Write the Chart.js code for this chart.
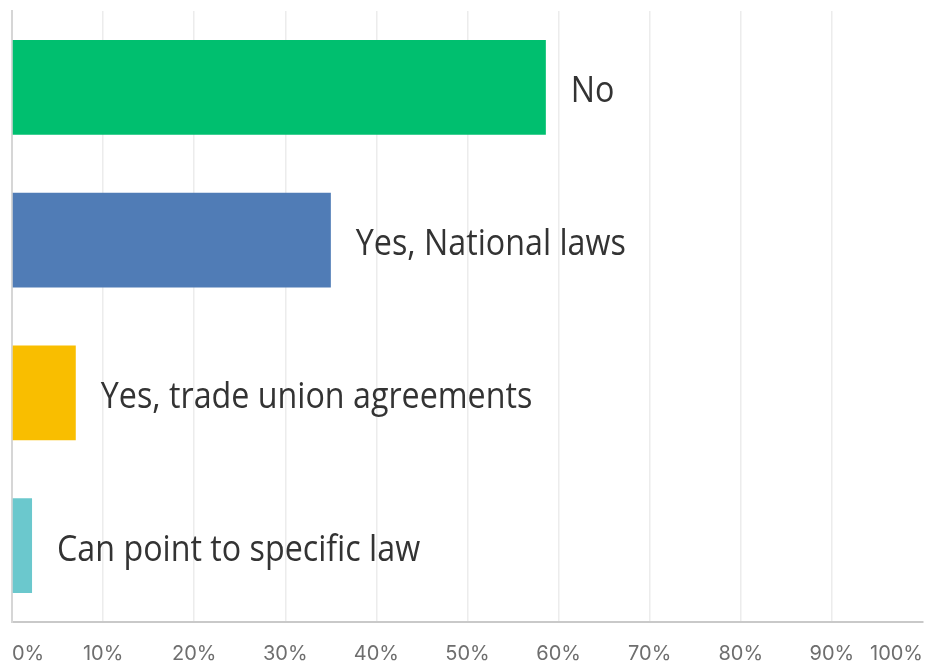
<!DOCTYPE html>
<html>
<head>
<meta charset="utf-8">
<script src="https://cdn.jsdelivr.net/npm/chart.js@4"></script>
<style>
  html, body { margin: 0; padding: 0; background: #fff; }
  #wrap { width: 925px; height: 666px; position: relative; }
</style>
</head>
<body>
<div id="wrap"><canvas id="answerChart"></canvas></div>
<script>
const categories = ['No', 'Yes, National laws', 'Yes, trade union agreements', 'Can point to specific law'];
const percentages = [58.6, 35.0, 7.0, 2.2];
const barColors = ['#00BF6F', '#507CB6', '#F9BE00', '#6BC8CD'];
const tickValues = [0, 10, 20, 30, 40, 50, 60, 70, 80, 90, 100];

// labels next to the bars, narrow like the original
const barLabels = {
    id: 'barLabels',
    afterDatasetsDraw(chart) {
        const ctx = chart.ctx;
        const meta = chart.getDatasetMeta(0);
        ctx.save();
        ctx.font = '36px "Open Sans"';
        ctx.fillStyle = '#333333';
        ctx.textBaseline = 'alphabetic';
        const sx = 270 / ctx.measureText('Yes, National laws').width;
        meta.data.forEach((bar, i) => {
            ctx.save();
            ctx.translate(bar.x + 25, bar.y + 15);
            ctx.scale(sx, 1);
            ctx.fillText(categories[i], 0, 0);
            ctx.restore();
        });
        ctx.restore();
    }
};

const ctx = document.getElementById('answerChart').getContext('2d');
new Chart(ctx, {
    type: 'bar',
    data: {
        labels: categories,
        datasets: [{
            data: percentages,
            backgroundColor: barColors,
            borderWidth: 0,
            barPercentage: 0.62,
            categoryPercentage: 1
        }]
    },
    options: {
        indexAxis: 'y',
        responsive: true,
        maintainAspectRatio: false,
        animation: false,
        layout: { padding: { top: 11, right: 2, left: 0, bottom: 0 } },
        plugins: {
            legend: { display: false },
            tooltip: { enabled: false }
        },
        scales: {
            x: {
                min: 0,
                max: 100,
                afterBuildTicks: scale => {
                    scale.ticks = tickValues.map(v => ({ value: v }));
                },
                afterFit: scale => {
                    scale.height = 44;
                    scale.paddingLeft = 0;
                    scale.paddingRight = 0;
                },
                ticks: {
                    align: 'inner',
                    padding: 20,
                    color: '#6e6e6e',
                    font: { family: 'Inter', size: 20 },
                    callback: v => v + '%'
                },
                grid: {
                    color: c => (c.tick && c.tick.value === 100 ? 'rgba(0,0,0,0)' : '#ececec'),
                    lineWidth: 1.5,
                    drawTicks: false
                },
                border: { color: '#c9c9c9', width: 2 }
            },
            y: {
                afterFit: scale => { scale.width = 12; },
                ticks: { display: false },
                grid: { display: false },
                border: { color: '#d6d6d6', width: 2 }
            }
        }
    },
    plugins: [barLabels]
});
</script>
</body>
</html>
